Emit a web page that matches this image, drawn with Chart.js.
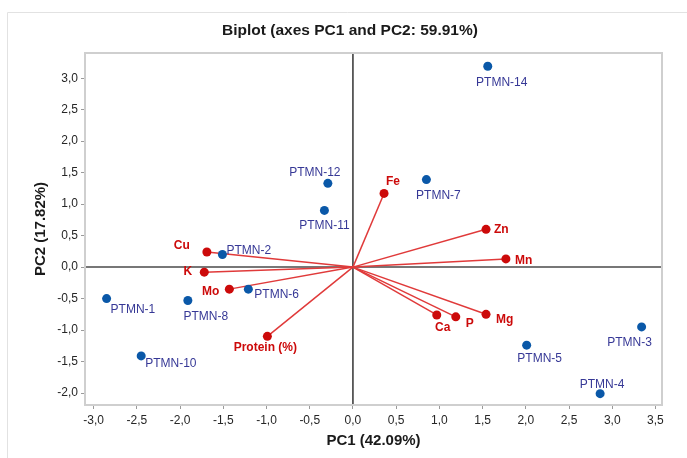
<!DOCTYPE html>
<html>
<head>
<meta charset="utf-8">
<script src="https://cdn.jsdelivr.net/npm/chart.js@4.4.0/dist/chart.umd.min.js"></script>
<style>
  html, body { margin: 0; padding: 0; background: #fff; }
  canvas { display: block; }
</style>
</head>
<body>
<canvas id="biplot" width="687" height="458"></canvas>
<script>
// ===============================
// Datos: observaciones (scores)
// ===============================
const obsNombres = ['PTMN-1', 'PTMN-2', 'PTMN-3', 'PTMN-4', 'PTMN-5', 'PTMN-6',
                    'PTMN-7', 'PTMN-8', 'PTMN-10', 'PTMN-11', 'PTMN-12', 'PTMN-14'];
const obsPC1 = [-2.85, -1.51, 3.34, 2.86, 2.01, -1.21, 0.85, -1.91, -2.45, -0.33, -0.29, 1.56];
const obsPC2 = [-0.50, 0.20, -0.95, -2.01, -1.24, -0.35, 1.39, -0.53, -1.41, 0.90, 1.33, 3.19];

// ===============================
// Datos: variables (loadings)
// ===============================
const varNombres = ['Fe', 'Zn', 'Mn', 'Mg', 'P', 'Ca', 'Protein (%)', 'Mo', 'K', 'Cu'];
const varPC1 = [0.36, 1.54, 1.77, 1.54, 1.19, 0.97, -0.99, -1.43, -1.72, -1.69];
const varPC2 = [1.17, 0.60, 0.13, -0.75, -0.79, -0.76, -1.10, -0.35, -0.08, 0.24];

// ticks de los ejes
const ticksX = [-3.0, -2.5, -2.0, -1.5, -1.0, -0.5, 0.0, 0.5, 1.0, 1.5, 2.0, 2.5, 3.0, 3.5];
const ticksY = [-2.0, -1.5, -1.0, -0.5, 0.0, 0.5, 1.0, 1.5, 2.0, 2.5, 3.0];

const titulo = 'Biplot (axes PC1 and PC2: 59.91%)';
const tituloX = 'PC1 (42.09%)';
const tituloY = 'PC2 (17.82%)';

// colocación de etiquetas [dx, dy, align] (solo estilo)
const posObs = [
  [4, 11, 'left'], [4, -4, 'left'], [-12, 16, 'center'], [2, -9, 'center'],
  [13, 14, 'center'], [6, 6, 'left'], [12, 16, 'center'], [18, 16, 'center'],
  [4, 8, 'left'], [0, 15, 'center'], [-13, -11, 'center'], [14, 16, 'center']
];
const posVar = [
  [9, -12, 'center'], [8, 0, 'left'], [9, 2, 'left'], [10, 5, 'left'],
  [14, 7, 'center'], [6, 13, 'center'], [-2, 11, 'center'], [-10, 3, 'right'],
  [-12, 0, 'right'], [-17, -6, 'right']
];

const AZUL = '#0a58a8';
const AZUL_TXT = '#363896';
const ROJO = '#cc0a0a';
const ROJO_LINEA = '#e03a3a';
const FUENTE = '"Liberation Sans", Arial, sans-serif';

const fmt = v => v.toFixed(1).replace('.', ',');

// ===============================
// Plugin: marco, ejes en cero, textos
// ===============================
const decoracion = {
  id: 'decoracion',
  beforeDatasetsDraw(chart) {
    const { ctx, chartArea: a, scales } = chart;
    ctx.save();
    // marco exterior
    ctx.strokeStyle = '#e2e2e2';
    ctx.lineWidth = 1;
    ctx.beginPath();
    ctx.moveTo(7.5, 458);
    ctx.lineTo(7.5, 12.5);
    ctx.lineTo(687, 12.5);
    ctx.stroke();
    // lineas en cero
    const x0 = scales.x.getPixelForValue(0);
    const y0 = scales.y.getPixelForValue(0);
    ctx.strokeStyle = '#777';
    ctx.lineWidth = 2;
    ctx.beginPath();
    ctx.moveTo(a.left, y0);
    ctx.lineTo(a.right, y0);
    ctx.stroke();
    ctx.strokeStyle = '#333';
    ctx.lineWidth = 1.5;
    ctx.beginPath();
    ctx.moveTo(x0, a.top);
    ctx.lineTo(x0, a.bottom);
    ctx.stroke();
    ctx.restore();
  },
  afterDatasetsDraw(chart) {
    const { ctx, chartArea: a, scales } = chart;
    ctx.save();
    // borde del área
    ctx.strokeStyle = '#cfcfcf';
    ctx.lineWidth = 2;
    ctx.strokeRect(a.left, a.top, a.right - a.left, a.bottom - a.top);

    ctx.textBaseline = 'middle';
    // etiquetas observaciones
    ctx.font = '12px ' + FUENTE;
    ctx.fillStyle = AZUL_TXT;
    obsNombres.forEach((n, i) => {
      const p = posObs[i];
      ctx.textAlign = p[2];
      ctx.fillText(n, scales.x.getPixelForValue(obsPC1[i]) + p[0],
                      scales.y.getPixelForValue(obsPC2[i]) + p[1]);
    });
    // etiquetas variables
    ctx.font = 'bold 12px ' + FUENTE;
    ctx.fillStyle = ROJO;
    varNombres.forEach((n, i) => {
      const p = posVar[i];
      ctx.textAlign = p[2];
      ctx.fillText(n, scales.x.getPixelForValue(varPC1[i]) + p[0],
                      scales.y.getPixelForValue(varPC2[i]) + p[1]);
    });

    // títulos
    ctx.fillStyle = '#1a1a1a';
    ctx.textAlign = 'center';
    ctx.font = 'bold 15.5px ' + FUENTE;
    ctx.fillText(titulo, 350, 31);
    ctx.font = 'bold 15px ' + FUENTE;
    ctx.fillText(tituloX, (a.left + a.right) / 2, 441);
    ctx.translate(41, (a.top + a.bottom) / 2);
    ctx.rotate(-Math.PI / 2);
    ctx.fillText(tituloY, 0, 0);
    ctx.restore();
  }
};

// ===============================
// Datasets
// ===============================
const vectores = varNombres.map((n, i) => ({
  label: n,
  data: [{ x: 0, y: 0 }, { x: varPC1[i], y: varPC2[i] }],
  showLine: true,
  borderColor: ROJO_LINEA,
  borderWidth: 1.5,
  pointRadius: [0, 4.5],
  pointBackgroundColor: ROJO,
  pointBorderWidth: 0,
  order: 1
}));

const puntos = {
  label: 'obs',
  data: obsPC1.map((x, i) => ({ x, y: obsPC2[i] })),
  pointRadius: 4.5,
  pointBackgroundColor: AZUL,
  pointBorderWidth: 0,
  order: 0
};

const ejeComun = {
  grid: { display: true, drawOnChartArea: false, drawTicks: true, tickLength: 4, color: '#9a9a9a' },
  border: { display: false },
  ticks: { color: '#262626', font: { size: 12, family: FUENTE }, padding: 3, callback: v => fmt(v) }
};

new Chart(document.getElementById('biplot'), {
  type: 'scatter',
  data: { datasets: [...vectores, puntos] },
  options: {
    responsive: false,
    animation: false,
    layout: { padding: { top: 53, right: 25, bottom: 0, left: 0 } },
    plugins: { legend: { display: false }, tooltip: { enabled: false } },
    scales: {
      x: {
        ...ejeComun,
        min: -3.10, max: 3.576,
        ticks: { ...ejeComun.ticks, padding: 4, maxRotation: 0, autoSkip: false },
        afterBuildTicks: s => { s.ticks = ticksX.map(v => ({ value: v })); },
        afterFit: s => { s.height = 53; }
      },
      y: {
        ...ejeComun,
        min: -2.19, max: 3.40,
        ticks: { ...ejeComun.ticks, autoSkip: false },
        afterBuildTicks: s => { s.ticks = ticksY.map(v => ({ value: v })); },
        afterFit: s => { s.width = 85; }
      }
    }
  },
  plugins: [decoracion]
});
</script>
</body>
</html>
